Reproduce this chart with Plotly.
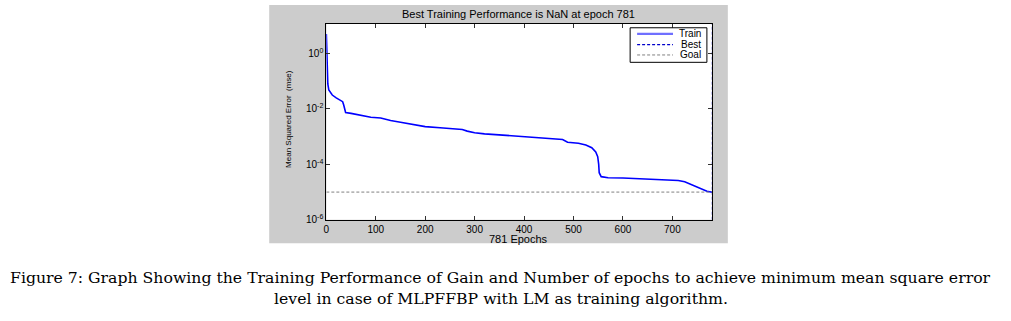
import plotly.graph_objects as go

# ---- data ----
epochs = [0, 1, 2, 3, 5, 8, 12, 20, 28, 33, 35, 37, 39, 50, 70, 90, 110, 130, 150, 170,
          200, 230, 260, 275, 285, 300, 320, 350, 380, 420, 450, 478, 488, 510, 525, 537,
          545, 549, 551, 552, 556, 570, 600, 640, 680, 712, 725, 740, 756, 770, 781]
train_mse = [5.0, 0.50, 0.126, 0.079, 0.048, 0.038, 0.0316, 0.0251, 0.0209, 0.0182, 0.0141,
             0.0089, 0.0074, 0.0069, 0.0060, 0.0050, 0.0047, 0.0038, 0.0033, 0.0029,
             0.0023, 0.0021, 0.0019, 0.0018, 0.00158, 0.00138, 0.00126, 0.00115, 0.00102,
             0.00091, 0.00085, 0.00079, 0.00063, 0.00058, 0.00050, 0.00040,
             0.00028, 0.00019, 0.0001, 0.00005, 3.6e-5, 3.3e-5, 3.2e-5, 3.0e-5, 2.8e-5,
             2.6e-5, 2.35e-5, 1.8e-5, 1.35e-5, 1.07e-5, 9.8e-6]
best_epoch = 781
goal = 1e-5
x_ticks = [0, 100, 200, 300, 400, 500, 600, 700]
y_tickvals = [1, 1e-2, 1e-4, 1e-6]
y_ticktext = ["10<sup>0</sup>", "10<sup>-2</sup>", "10<sup>-4</sup>", "10<sup>-6</sup>"]
x_range = [0, 781]
y_range_log = [-6, 1.06]
legend_names = ["Train", "Best", "Goal"]

title_text = "Best Training Performance is NaN at epoch 781"
xlabel_text = "781 Epochs"
ylabel_text = "Mean Squared Error  (mse)"
caption1 = ("Figure 7: Graph Showing the Training Performance of Gain and Number of epochs "
            "to achieve minimum mean square error")
caption2 = "level in case of MLPFFBP with LM as training algorithm."

W, H = 1011, 321


def px(x):
    return x / W


def py(y):
    return 1 - y / H


SANS = "Liberation Sans, Arial, sans-serif"
SERIF = "DejaVu Serif, serif"
BLUE = "#0000ff"
NAVY = "#0000cc"
GOAL_GRAY = "#808080"
SHORT_DASH = "3px,2px"

fig = go.Figure()
fig.add_trace(go.Scatter(x=epochs, y=train_mse, mode="lines", name=legend_names[0],
                         line=dict(color=BLUE, width=1.6), showlegend=False))
fig.add_trace(go.Scatter(x=[best_epoch, best_epoch], y=[10 ** y_range_log[0], 10 ** y_range_log[1]],
                         mode="lines", name=legend_names[1],
                         line=dict(color=NAVY, width=1.2, dash=SHORT_DASH), showlegend=False))
fig.add_trace(go.Scatter(x=x_range, y=[goal, goal], mode="lines", name=legend_names[2],
                         line=dict(color=GOAL_GRAY, width=1, dash=SHORT_DASH), showlegend=False))

shapes = [
    # grey figure panel
    dict(type="rect", xref="paper", yref="paper", x0=px(267), x1=px(727), y0=py(248), y1=py(5),
         fillcolor="#cccccc", line=dict(width=0), layer="below"),
    # white axes area
    dict(type="rect", xref="paper", yref="paper", x0=px(324.3), x1=px(711.5), y0=py(224), y1=py(24.5),
         fillcolor="white", line=dict(width=0), layer="below"),
    # legend box
    dict(type="rect", xref="paper", yref="paper", x0=px(629), x1=px(706), y0=py(63.5), y1=py(28.3),
         fillcolor="white", line=dict(color="black", width=1), layer="above"),
    dict(type="line", xref="paper", yref="paper", x0=px(636), x1=px(672), y0=py(34.5), y1=py(34.5),
         line=dict(color="#6f6fff", width=2.2)),
    dict(type="line", xref="paper", yref="paper", x0=px(636), x1=px(672), y0=py(45.5), y1=py(45.5),
         line=dict(color=NAVY, width=1.2, dash=SHORT_DASH)),
    dict(type="line", xref="paper", yref="paper", x0=px(636), x1=px(672), y0=py(56), y1=py(56),
         line=dict(color=GOAL_GRAY, width=1, dash=SHORT_DASH)),
]

annotations = [
    dict(text=title_text, x=px(517), y=py(14), xref="paper", yref="paper", showarrow=False,
         xanchor="center", yanchor="middle", font=dict(family=SANS, size=11, color="black")),
    dict(text=xlabel_text, x=px(517), y=py(244), xref="paper", yref="paper", showarrow=False,
         xanchor="center", yanchor="middle", font=dict(family=SANS, size=11, color="black")),
    dict(text=ylabel_text, x=px(287), y=py(121), xref="paper", yref="paper", showarrow=False,
         textangle=-90, xanchor="center", yanchor="middle",
         font=dict(family=SANS, size=8, color="black")),
    dict(text=caption1, x=px(499), y=py(283), xref="paper", yref="paper", showarrow=False,
         xanchor="center", yanchor="middle", font=dict(family=SERIF, size=15.7, color="black")),
    dict(text=caption2, x=px(499), y=py(304), xref="paper", yref="paper", showarrow=False,
         xanchor="center", yanchor="middle", font=dict(family=SERIF, size=15.7, color="black")),
]
for i, name in enumerate(legend_names):
    annotations.append(dict(text=name, x=px(702), y=py([34.5, 45.5, 56][i]), xref="paper", yref="paper",
                            showarrow=False, xanchor="right", yanchor="middle",
                            font=dict(family=SANS, size=10, color="black")))

fig.update_layout(
    width=W, height=H,
    margin=dict(l=0, r=0, t=0, b=0),
    paper_bgcolor="white",
    plot_bgcolor="white",
    showlegend=False,
    shapes=shapes,
    annotations=annotations,
    xaxis=dict(domain=[px(324.3), px(711.5)], range=x_range, tickvals=x_ticks,
               ticks="inside", ticklen=4, tickcolor="#333", showline=True, linecolor="black",
               linewidth=1, mirror="ticks", showgrid=False, zeroline=False,
               tickfont=dict(family=SANS, size=10, color="black")),
    yaxis=dict(domain=[py(224), py(24.5)], type="log", range=y_range_log,
               tickvals=y_tickvals, ticktext=y_ticktext,
               ticks="inside", ticklen=4, tickcolor="#333", showline=True, linecolor="black",
               linewidth=1, mirror="ticks", showgrid=False, zeroline=False,
               tickfont=dict(family=SANS, size=10, color="black")),
)

fig.write_html(
    "out.html",
    config={"displayModeBar": False},
    post_script=(
        "document.documentElement.style.margin='0';"
        "document.documentElement.style.padding='0';"
        "document.documentElement.style.overflow='hidden';"
        "document.body.style.margin='0';document.body.style.padding='0';"
        "document.body.style.overflow='hidden';"
        "document.body.style.height='321px';"
    ),
)
